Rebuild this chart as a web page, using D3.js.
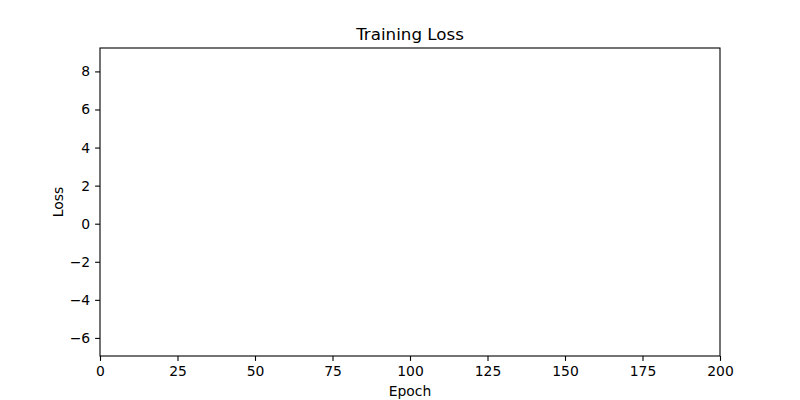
<!DOCTYPE html>
<html>
<head>
<meta charset="utf-8">
<script src="https://cdn.jsdelivr.net/npm/d3@7/dist/d3.min.js"></script>
<style>
  body { margin: 0; background: #fff; }
  text { font-family: "DejaVu Sans", sans-serif; }
</style>
</head>
<body>
<div id="chart-area"></div>
<script>
// the reference plot is empty: no loss values are drawn
const epochs = [];
const losses = [];
const xTicks = [0, 25, 50, 75, 100, 125, 150, 175, 200];
const yTicks = [-6, -4, -2, 0, 2, 4, 6, 8];
const xDomain = [0, 200];
const yDomain = [-6.95, 9.23];

const margin = {left: 100, right: 80, top: 48, bottom: 44};
const width = 800 - margin.left - margin.right,
    height = 400 - margin.top - margin.bottom;

const svg = d3.select('#chart-area')
    .append('svg')
    .attr('width', 800)
    .attr('height', 400);

const g = svg.append('g')
    .attr('transform', 'translate(' + margin.left + ', ' + margin.top + ')');

const xScale = d3.scaleLinear().domain(xDomain).range([0, width]);
const yScale = d3.scaleLinear().domain(yDomain).range([height, 0]);

const xAxisCall = d3.axisBottom(xScale)
    .tickValues(xTicks)
    .tickSize(4.9)
    .tickPadding(4.9)
    .tickSizeOuter(0)
    .tickFormat(d => d);

const yAxisCall = d3.axisLeft(yScale)
    .tickValues(yTicks)
    .tickSize(4.9)
    .tickPadding(4.9)
    .tickSizeOuter(0)
    .tickFormat(d => d < 0 ? '\u2212' + Math.abs(d) : d);

const xAxis = g.append('g')
    .attr('transform', 'translate(0, ' + height + ')')
    .call(xAxisCall);

const yAxis = g.append('g').call(yAxisCall);

[xAxis, yAxis].forEach(ax => {
    ax.select('.domain').remove();
    ax.selectAll('line').attr('stroke', '#000').attr('stroke-width', 1.1);
    ax.selectAll('text')
        .attr('fill', '#000')
        .attr('font-size', '13.9px')
        .attr('font-family', '"DejaVu Sans", sans-serif');
});

// loss line (empty)
const line = d3.line()
    .x((d, i) => xScale(epochs[i]))
    .y(d => yScale(d));

g.append('path')
    .datum(losses)
    .attr('fill', 'none')
    .attr('stroke', '#1f77b4')
    .attr('stroke-width', 2)
    .attr('d', line);

// frame
g.append('rect')
    .attr('x', 0)
    .attr('y', 0)
    .attr('width', width)
    .attr('height', height)
    .attr('fill', 'none')
    .attr('stroke', '#000')
    .attr('stroke-width', 1.1);

g.append('text')
    .text('Training Loss')
    .attr('x', width / 2)
    .attr('y', -8.5)
    .attr('text-anchor', 'middle')
    .attr('font-size', '16.7px');

g.append('text')
    .text('Epoch')
    .attr('x', width / 2)
    .attr('y', height + 40)
    .attr('text-anchor', 'middle')
    .attr('font-size', '13.9px');

g.append('text')
    .text('Loss')
    .attr('transform', 'rotate(-90)')
    .attr('x', -height / 2)
    .attr('y', -37)
    .attr('text-anchor', 'middle')
    .attr('font-size', '13.9px');
</script>
</body>
</html>
